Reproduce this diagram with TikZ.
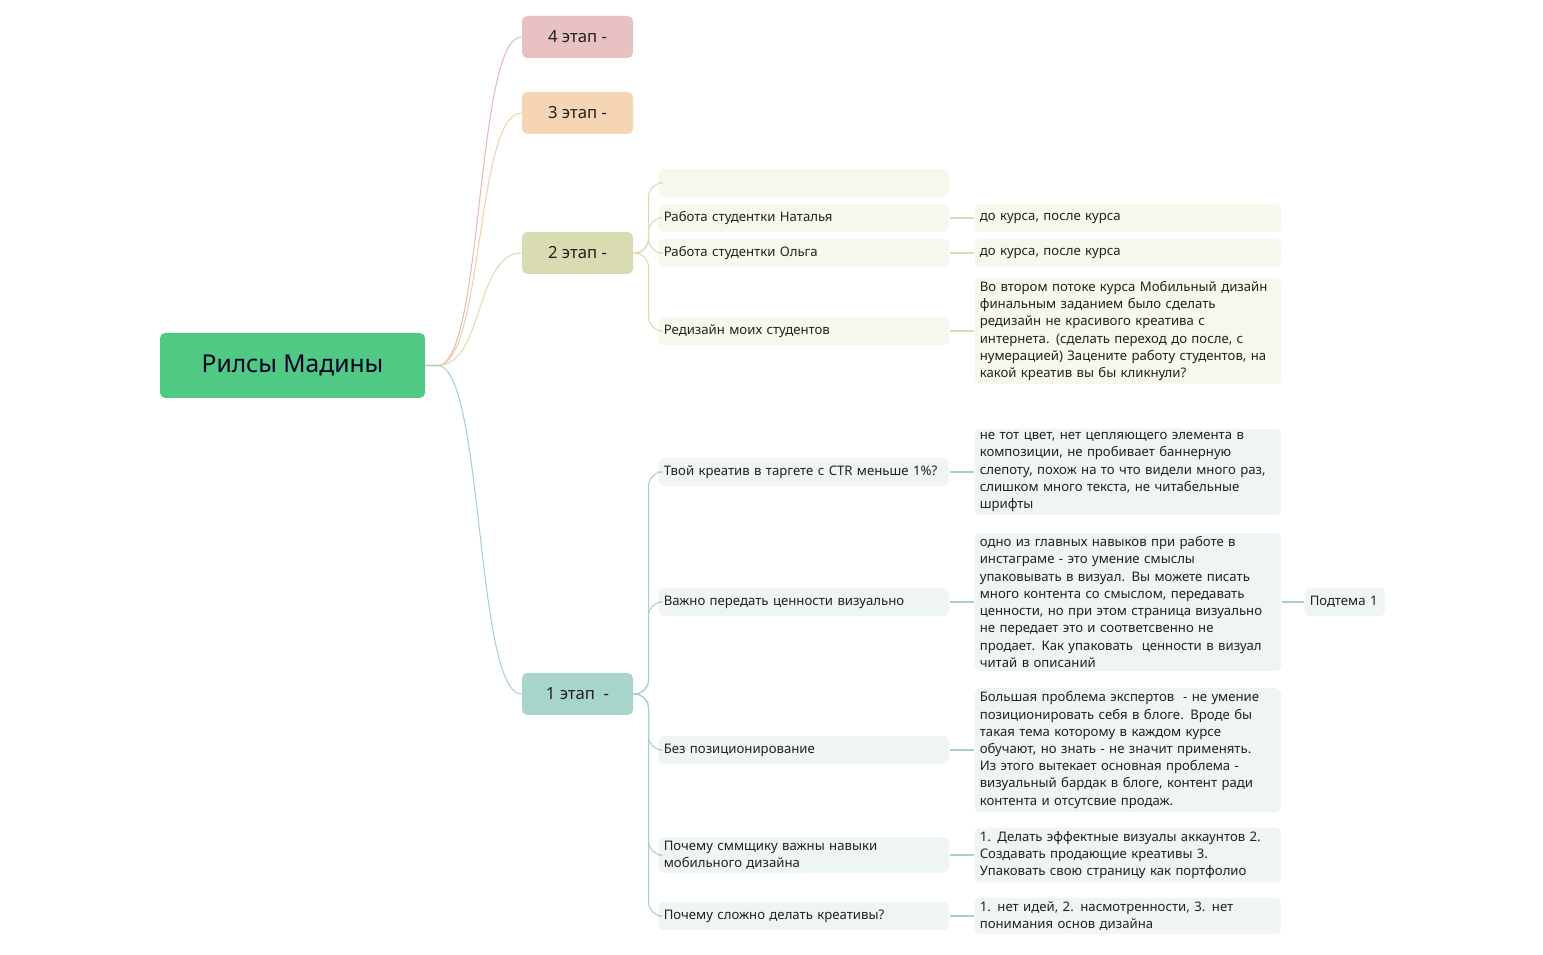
\documentclass[tikz,border=0pt]{standalone}
\usepackage{fontspec}
\setmainfont{Noto Sans}
\usetikzlibrary{calc}
\definecolor{rootc}{HTML}{4FC983}
\definecolor{fourc}{HTML}{E8C2C2}
\definecolor{fourl}{HTML}{E6B8B8}
\definecolor{threec}{HTML}{F5D5B3}
\definecolor{threel}{HTML}{F2CFA8}
\definecolor{twoc}{HTML}{D9DCB1}
\definecolor{twol}{HTML}{DADDB0}
\definecolor{twob}{HTML}{F6F7ED}
\definecolor{onec}{HTML}{A8D5CB}
\definecolor{onel}{HTML}{A6D3C9}
\definecolor{oneb}{HTML}{EEF5F2}
\definecolor{txt}{HTML}{222222}
\begin{document}
\begin{tikzpicture}[x=0.02cm, y=-0.02cm, line width=.6pt,
    stage/.style={rounded corners=3pt, minimum width=111*0.02cm, minimum height=42*0.02cm,
        inner sep=0pt, font=\fontsize{9.5}{11}\selectfont\bfseries, text=txt},
    topic/.style={rounded corners=3pt, anchor=west, minimum width=290*0.02cm,
        text width=280*0.02cm, align=left, inner xsep=3pt, inner ysep=0pt,
        minimum height=28*0.02cm, font=\fontsize{7.5}{9.8}\selectfont, text=txt},
    leaf/.style={topic, minimum width=304*0.02cm, text width=296*0.02cm, inner ysep=2pt}]
    \useasboundingbox (0,0) rectangle (1543,955);

    % root and stages
    \node[fill=rootc, rounded corners=3pt, minimum width=265*0.02cm, minimum height=65*0.02cm,
        font=\fontsize{14}{16}\selectfont\bfseries, text=black!85!blue] (root) at (292.5,365.5) {Рилсы Мадины};
    \node[stage, fill=fourc] (s4) at (577.5,37) {4 этап -};
    \node[stage, fill=threec] (s3) at (577.5,113) {3 этап -};
    \node[stage, fill=twoc] (s2) at (577.5,253) {2 этап -};
    \node[stage, fill=onec] (s1) at (577.5,694) {1 этап\ \ -};

    \foreach \s/\c in {s4/fourl, s3/threel, s2/twol, s1/onel}
        \draw[\c] (root.east) -- ++(12,0) coordinate (r\s)
            .. controls ($(r\s)!0.55!(\s.west |- r\s)$) and ($(\s.west)!0.55!(r\s |- \s.west)$) .. (\s.west);

    % stage 2
    \node[topic, fill=twob] (t0) at (658,183) {};
    \node[topic, fill=twob] (t1) at (658,218) {Работа студентки Наталья};
    \node[topic, fill=twob] (t2) at (658,253) {Работа студентки Ольга};
    \node[topic, fill=twob] (t3) at (658,331) {Редизайн моих студентов};
    \node[leaf, fill=twob] (l1) at (974,218) {до курса, после курса};
    \node[leaf, fill=twob] (l2) at (974,253) {до курса, после курса};
    \node[leaf, fill=twob] (l3) at (974,331) {Во втором потоке курса Мобильный дизайн\\финальным заданием было сделать\\редизайн не красивого креатива с\\интернета. (сделать переход до после, с\\нумерацией) Зацените работу студентов, на\\какой креатив вы бы кликнули?};
    \foreach \t in {t0,t1,t2,t3}
        \draw[twol, rounded corners=8pt] (s2.east) -- ++(15,0) |- (\t.west);
    \foreach \t/\l in {t1/l1,t2/l2,t3/l3}
        \draw[twol] (\t.east) -- (\l.west |- \t.east);

    % stage 1
    \node[topic, fill=oneb] (u1) at (658,472) {Твой креатив в таргете с CTR меньше 1\%?};
    \node[topic, fill=oneb] (u2) at (658,602) {Важно передать ценности визуально};
    \node[topic, fill=oneb] (u3) at (658,750) {Без позиционирование};
    \node[topic, fill=oneb, inner ysep=2pt] (u4) at (658,855) {Почему сммщику важны навыки\\мобильного дизайна};
    \node[topic, fill=oneb] (u5) at (658,916) {Почему сложно делать креативы?};
    \node[leaf, fill=oneb] (k1) at (974,472) {не тот цвет, нет цепляющего элемента в\\композиции, не пробивает баннерную\\слепоту, похож на то что видели много раз,\\слишком много текста, не читабельные\\шрифты};
    \node[leaf, fill=oneb] (k2) at (974,602) {одно из главных навыков при работе в\\инстаграме - это умение смыслы\\упаковывать в визуал. Вы можете писать\\много контента со смыслом, передавать\\ценности, но при этом страница визуально\\не передает это и соответсвенно не\\продает. Как упаковать\ \ ценности в визуал\\читай в описаний};
    \node[leaf, fill=oneb] (k3) at (974,750) {Большая проблема экспертов\ \ - не умение\\позиционировать себя в блоге. Вроде бы\\такая тема которому в каждом курсе\\обучают, но знать - не значит применять.\\Из этого вытекает основная проблема -\\визуальный бардак в блоге, контент ради\\контента и отсутсвие продаж.};
    \node[leaf, fill=oneb] (k4) at (974,855) {1. Делать эффектные визуалы аккаунтов 2.\\Создавать продающие креативы 3.\\Упаковать свою страницу как портфолио};
    \node[leaf, fill=oneb] (k5) at (974,916) {1. нет идей, 2. насмотренности, 3. нет\\понимания основ дизайна};
    \node[topic, fill=oneb, minimum width=77*0.02cm, text width=70*0.02cm] (p1) at (1304,602) {Подтема 1};
    \foreach \t in {u1,u2,u3,u4,u5}
        \draw[onel, rounded corners=8pt] (s1.east) -- ++(15,0) |- (\t.west);
    \foreach \t/\l in {u1/k1,u2/k2,u3/k3,u4/k4,u5/k5}
        \draw[onel] (\t.east) -- (\l.west |- \t.east);
    \draw[onel] (k2.east) -- (p1.west);
\end{tikzpicture}
\end{document}
